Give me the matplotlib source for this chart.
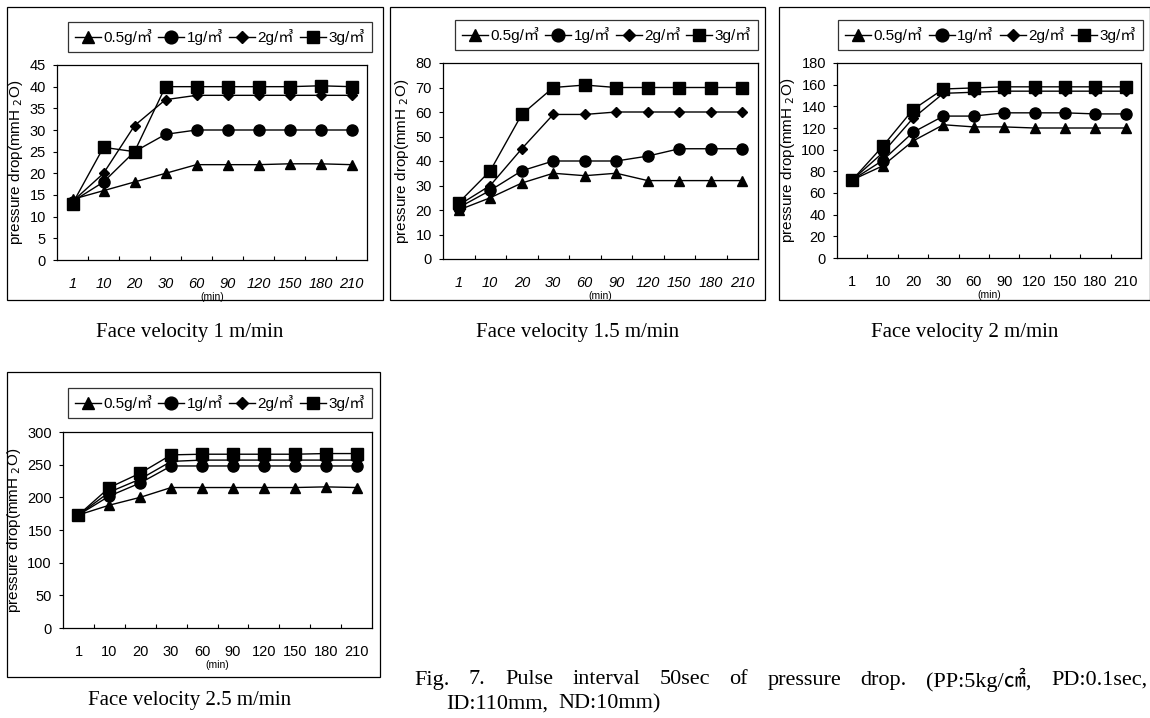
import matplotlib
matplotlib.use("Agg")
import matplotlib.pyplot as plt
from matplotlib.patches import Rectangle

W, H = 1150, 718

categories = ["1", "10", "20", "30", "60", "90", "120", "150", "180", "210"]
series_labels = ["0.5g/㎥", "1g/㎥", "2g/㎥", "3g/㎥"]

v1_05 = [14, 16, 18, 20, 22, 22, 22, 22.2, 22.2, 22]
v1_1 = [13.5, 18, 25, 29, 30, 30, 30, 30, 30, 30]
v1_2 = [13.5, 20, 31, 37, 38, 38, 38, 38, 38, 38]
v1_3 = [13, 26, 25, 40, 40, 40, 40, 40, 40.2, 40]

v15_05 = [20, 25, 31, 35, 34, 35, 32, 32, 32, 32]
v15_1 = [21, 28, 36, 40, 40, 40, 42, 45, 45, 45]
v15_2 = [22, 30, 45, 59, 59, 60, 60, 60, 60, 60]
v15_3 = [23, 36, 59, 70, 71, 70, 70, 70, 70, 70]

v2_05 = [72, 85, 108, 123, 121, 121, 120, 120, 120, 120]
v2_1 = [72, 90, 116, 131, 131, 134, 134, 134, 133, 133]
v2_2 = [72, 97, 129, 152, 153, 154, 154, 154, 154, 154]
v2_3 = [72, 103, 137, 156, 157, 158, 158, 158, 158, 158]

v25_05 = [173, 188, 200, 215, 215, 215, 215, 215, 216, 215]
v25_1 = [173, 202, 222, 248, 248, 248, 248, 248, 248, 248]
v25_2 = [173, 208, 228, 255, 257, 257, 257, 257, 257, 257]
v25_3 = [173, 215, 237, 265, 266, 266, 266, 266, 267, 267]

titles = ["Face velocity 1 m/min", "Face velocity 1.5 m/min",
          "Face velocity 2 m/min", "Face velocity 2.5 m/min"]
yticks_list = [list(range(0, 46, 5)), list(range(0, 81, 10)),
               list(range(0, 181, 20)), list(range(0, 301, 50))]

caption_line1 = ["Fig.", "7.", "Pulse", "interval", "50sec", "of", "pressure",
                 "drop.", "(PP:5kg/㎠,", "PD:0.1sec,"]
caption_line2 = ["ID:110mm,", "ND:10mm)"]

panels = [
    dict(data=[v1_05, v1_1, v1_2, v1_3], yt=yticks_list[0], italic=True,
         box=(7, 7, 383, 300), ax=(57, 65, 367, 260), leg=(68, 17, 372, 52),
         title=titles[0], tpos=(190, 333)),
    dict(data=[v15_05, v15_1, v15_2, v15_3], yt=yticks_list[1], italic=True,
         box=(390, 7, 765, 300), ax=(443, 63, 758, 259), leg=(455, 15, 758, 50),
         title=titles[1], tpos=(578, 333)),
    dict(data=[v2_05, v2_1, v2_2, v2_3], yt=yticks_list[2], italic=False,
         box=(779, 7, 1150, 300), ax=(837, 63, 1141, 258), leg=(838, 15, 1143, 50),
         title=titles[2], tpos=(965, 333)),
    dict(data=[v25_05, v25_1, v25_2, v25_3], yt=yticks_list[3], italic=False,
         box=(7, 372, 380, 677), ax=(63, 432, 372, 628), leg=(68, 383, 372, 418),
         title=titles[3], tpos=(190, 700)),
]

markers = ["^", "o", "D", "s"]
msizes = [7, 8, 5, 8]

fig = plt.figure(figsize=(W / 100, H / 100), dpi=100)
fig.patch.set_facecolor("white")

SANS = ["Liberation Sans", "Noto Sans CJK KR", "DejaVu Sans"]
SERIF = ["Liberation Serif", "Noto Sans CJK KR", "DejaVu Serif"]


def frac(x0, y0, x1, y1):
    return [x0 / W, 1 - y1 / H, (x1 - x0) / W, (y1 - y0) / H]


for p in panels:
    bx = p["box"]
    fig.patches.append(Rectangle((bx[0] / W, 1 - bx[3] / H), (bx[2] - bx[0]) / W,
                                 (bx[3] - bx[1]) / H, transform=fig.transFigure,
                                 fill=False, edgecolor="black", linewidth=0.9))
    ax = fig.add_axes(frac(*p["ax"]))
    xs = list(range(len(categories)))
    handles = []
    for vals, m, ms, lab in zip(p["data"], markers, msizes, series_labels):
        h, = ax.plot(xs, vals, color="black", linewidth=1.0, marker=m,
                     markersize=ms, markerfacecolor="black",
                     markeredgecolor="black", label=lab)
        handles.append(h)
    yt = p["yt"]
    ax.set_ylim(yt[0], yt[-1])
    ax.set_yticks(yt)
    ax.set_xlim(-0.5, len(categories) - 0.5)
    ax.set_xticks(xs)
    ax.set_xticklabels(categories, fontstyle="italic" if p["italic"] else "normal",
                       family=SANS, fontsize=10.5)
    ax.set_xticks([i + 0.5 for i in range(len(categories) - 1)], minor=True)
    ax.tick_params(axis="x", which="major", length=0, pad=12)
    ax.tick_params(axis="x", which="minor", direction="in", length=3, width=0.8)
    ax.tick_params(axis="y", which="major", direction="out", length=3, width=0.8,
                   labelsize=10.5, pad=5)
    for lbl in ax.get_yticklabels():
        lbl.set_family(SANS)
    for s in ax.spines.values():
        s.set_linewidth(0.9)
    ax.set_ylabel("pressure drop(mmH $_2$O)", family=SANS, fontsize=11, labelpad=3)
    ax.set_xlabel("(min)", family=SANS, fontsize=7.5, labelpad=1)

    lg = p["leg"]
    l = fig.legend(handles=handles, labels=series_labels, ncol=4,
                   loc="lower left",
                   bbox_to_anchor=(lg[0] / W, 1 - lg[3] / H, (lg[2] - lg[0]) / W,
                                   (lg[3] - lg[1]) / H),
                   mode="expand", frameon=True, fancybox=False, edgecolor="black",
                   handlelength=1.7, handletextpad=0.15, columnspacing=0.4,
                   borderaxespad=0, borderpad=0.45, markerscale=1.15,
                   prop={"family": SANS, "size": 11})
    l.get_frame().set_linewidth(0.9)

    fig.text(p["tpos"][0] / W, 1 - p["tpos"][1] / H, p["title"], ha="center",
             va="center", family=SERIF, fontsize=15)

# caption: words with an even, wide gap, filling the line to the right edge
renderer = fig.canvas.get_renderer()


def spread_words(words, x_start, x_end, y, fs):
    texts = [fig.text(0, 1 - y / H, w, ha="left", va="center", family=SERIF,
                      fontsize=fs) for w in words]
    widths = [t.get_window_extent(renderer).width for t in texts]
    gap = (x_end - x_start - sum(widths)) / max(len(words) - 1, 1)
    x = x_start
    for t, wd in zip(texts, widths):
        t.set_x(x / W)
        x += wd + gap
    return gap


g = spread_words(caption_line1, 414, 1147, 680, 16)
t2 = [fig.text(0, 1 - 704 / H, w, ha="left", va="center", family=SERIF,
               fontsize=16) for w in caption_line2]
x = 446
for t in t2:
    t.set_x(x / W)
    x += t.get_window_extent(renderer).width + 10

fig.savefig("out.png", dpi=100, facecolor="white")
